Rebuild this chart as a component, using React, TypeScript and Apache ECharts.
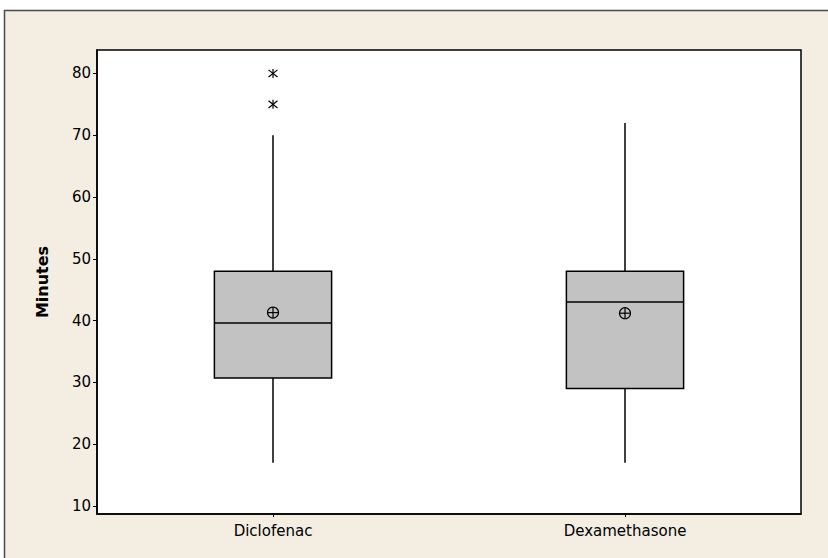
import React, { useEffect, useRef } from "react";
import * as echarts from "echarts";

const categories = ["Diclofenac", "Dexamethasone"];
const whiskerLow = [17, 17];
const q1 = [30.7, 29];
const median = [39.6, 43];
const q3 = [48, 48];
const whiskerHigh = [70, 72];
const means = [41.3, 41.2];
const outlierCategory = [0, 0];
const outlierValues = [80, 75];
const yTicks = [10, 20, 30, 40, 50, 60, 70, 80];

export default function App() {
  const ref = useRef<HTMLDivElement>(null);
  useEffect(() => {
    if (!ref.current) return;
    const chart = echarts.init(ref.current, null, { renderer: "svg" });
    const font = "DejaVu Sans";
    const boxData = categories.map((_, i) => [i, whiskerLow[i], q1[i], median[i], q3[i], whiskerHigh[i]]);
    const meanData = categories.map((_, i) => [i, means[i]]);
    const outData = outlierValues.map((v, i) => [outlierCategory[i], v]);
    chart.setOption({
      animation: false,
      backgroundColor: "#ffffff",
      graphic: [
        {
          type: "rect",
          z: -10,
          shape: { x: 4.5, y: 10.5, width: 840, height: 560 },
          style: { fill: "#F3EDE2", stroke: "#4a4a4a", lineWidth: 1.5 },
          silent: true,
        },
      ],
      grid: {
        left: 97,
        top: 50,
        right: 27,
        bottom: 44,
        show: true,
        backgroundColor: "#ffffff",
        borderColor: "#000000",
        borderWidth: 1.5,
      },
      xAxis: {
        type: "category",
        data: categories,
        boundaryGap: true,
        axisLine: { show: true, lineStyle: { color: "#000", width: 1.5 } },
        axisTick: { show: true, alignWithLabel: true, length: 3, lineStyle: { color: "#000" } },
        axisLabel: { color: "#000", fontFamily: font, fontSize: 15, margin: 9 },
        splitLine: { show: false },
      },
      yAxis: {
        type: "value",
        min: 8.7,
        max: 83.8,
        name: "Minutes",
        nameLocation: "middle",
        nameGap: 47,
        nameTextStyle: { color: "#000", fontFamily: font, fontSize: 16, fontWeight: "bold" },
        axisLine: { show: true, lineStyle: { color: "#000", width: 1.5 } },
        axisTick: { show: true, length: 4, customValues: yTicks, lineStyle: { color: "#000" } },
        axisLabel: { color: "#000", fontFamily: font, fontSize: 15, margin: 6, customValues: yTicks },
        splitLine: { show: false },
      },
      series: [
        {
          type: "custom",
          data: boxData,
          encode: { x: 0, y: [1, 2, 3, 4, 5] },
          renderItem: (params: any, api: any) => {
            const x = api.value(0);
            const pLo = api.coord([x, api.value(1)]);
            const pQ1 = api.coord([x, api.value(2)]);
            const pMed = api.coord([x, api.value(3)]);
            const pQ3 = api.coord([x, api.value(4)]);
            const pHi = api.coord([x, api.value(5)]);
            const bw = api.size([1, 0])[0] * 0.333;
            const cx = pMed[0];
            const stroke = { stroke: "#000", lineWidth: 1.5 };
            return {
              type: "group",
              children: [
                { type: "line", shape: { x1: cx, y1: pHi[1], x2: cx, y2: pQ3[1] }, style: stroke },
                { type: "line", shape: { x1: cx, y1: pQ1[1], x2: cx, y2: pLo[1] }, style: stroke },
                {
                  type: "rect",
                  shape: { x: cx - bw / 2, y: pQ3[1], width: bw, height: pQ1[1] - pQ3[1] },
                  style: { fill: "#C2C2C2", stroke: "#000", lineWidth: 1.5 },
                },
                { type: "line", shape: { x1: cx - bw / 2, y1: pMed[1], x2: cx + bw / 2, y2: pMed[1] }, style: stroke },
              ],
            };
          },
          z: 2,
        },
        {
          type: "custom",
          data: meanData,
          encode: { x: 0, y: 1 },
          renderItem: (params: any, api: any) => {
            const p = api.coord([api.value(0), api.value(1)]);
            const r = 5.5;
            const st = { stroke: "#000", lineWidth: 1.2, fill: "none" };
            return {
              type: "group",
              children: [
                { type: "circle", shape: { cx: p[0], cy: p[1], r }, style: st },
                { type: "line", shape: { x1: p[0] - r, y1: p[1], x2: p[0] + r, y2: p[1] }, style: st },
                { type: "line", shape: { x1: p[0], y1: p[1] - r, x2: p[0], y2: p[1] + r }, style: st },
              ],
            };
          },
          z: 3,
        },
        {
          type: "custom",
          data: outData,
          encode: { x: 0, y: 1 },
          renderItem: (params: any, api: any) => {
            const p = api.coord([api.value(0), api.value(1)]);
            const s = 4.5;
            const st = { stroke: "#000", lineWidth: 1.2 };
            return {
              type: "group",
              children: [
                { type: "line", shape: { x1: p[0], y1: p[1] - s, x2: p[0], y2: p[1] + s }, style: st },
                { type: "line", shape: { x1: p[0] - s, y1: p[1] - s * 0.8, x2: p[0] + s, y2: p[1] + s * 0.8 }, style: st },
                { type: "line", shape: { x1: p[0] - s, y1: p[1] + s * 0.8, x2: p[0] + s, y2: p[1] - s * 0.8 }, style: st },
              ],
            };
          },
          z: 3,
        },
      ],
    });
    return () => chart.dispose();
  }, []);
  return (
    <div
      ref={ref}
      style={{ position: "fixed", left: 0, top: 0, width: 828, height: 558 }}
    />
  );
}
